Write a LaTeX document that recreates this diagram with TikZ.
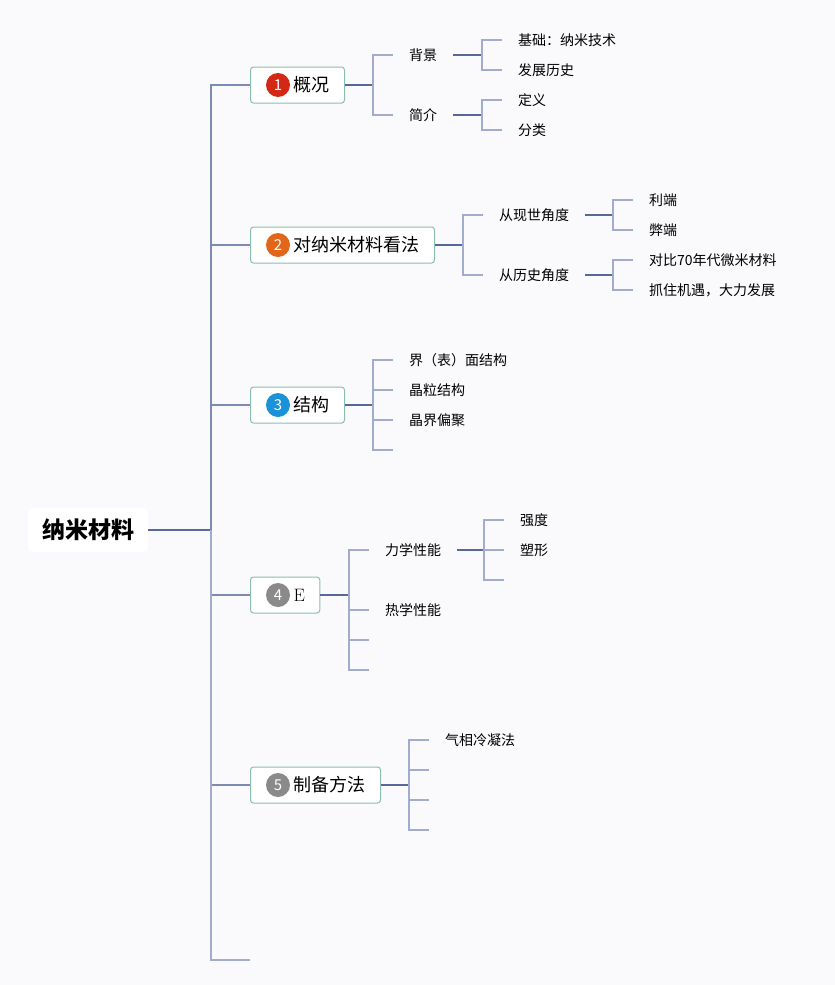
\documentclass[tikz,border=0pt]{standalone}
\usepackage{fontspec}
\newfontfamily\cjk{Noto Sans CJK SC}
\usetikzlibrary{positioning}
\definecolor{bgcol}{RGB}{250,250,252}
\definecolor{linedark}{RGB}{88,104,152}
\definecolor{linemid}{RGB}{125,138,180}
\definecolor{linelight}{RGB}{162,172,206}
\definecolor{boxline}{RGB}{140,190,176}
\definecolor{dotred}{RGB}{212,40,22}
\definecolor{dotorange}{RGB}{226,102,26}
\definecolor{dotblue}{RGB}{26,146,218}
\definecolor{dotgray}{RGB}{138,138,138}

\begin{document}
\begin{tikzpicture}[x=1pt, y=-1pt,
	root/.style={rounded corners=5pt, fill=white, inner xsep=14pt, minimum height=44pt, font=\cjk\fontsize{23}{26}\selectfont\bfseries},
	topic/.style={anchor=west, rounded corners=3pt, draw=boxline, fill=white, line width=1pt, inner xsep=15pt, minimum height=36pt, font=\cjk\fontsize{18}{21}\selectfont},
	numdot/.style={circle, inner sep=0pt, minimum size=24pt, text=white, font=\cjk\fontsize{15}{17}\selectfont},
	leaf/.style={anchor=west, inner xsep=16pt, inner ysep=2pt, font=\cjk\fontsize{14}{16}\selectfont},
	link/.style={draw=linedark, line width=1.2pt},
	fork/.style={draw=linelight, line width=1.2pt}]
	\fill[bgcol] (0,0) rectangle (835,985);
	\useasboundingbox (0,0) rectangle (835,985);

	% root and trunk
	\node[root] (nm) at (88,530) {纳米材料};
	\coordinate (trunk) at (211,530);
	\draw[link] (nm) -- (trunk);

	\node[topic] (gk) at (250,85) {\hspace{28pt}概况};
	\node[topic] (kf) at (250,245) {\hspace{28pt}对纳米材料看法};
	\node[topic] (jg) at (250,405) {\hspace{28pt}结构};
	\node[topic] (xn) at (250,595) {\hspace{28pt}\rmfamily E};
	\node[topic] (zb) at (250,785) {\hspace{28pt}制备方法};
	\coordinate (tend) at (250,960);

	\node[numdot, fill=dotred] at ([xshift=28pt]gk.west) {1};
	\node[numdot, fill=dotorange] at ([xshift=28pt]kf.west) {2};
	\node[numdot, fill=dotblue] at ([xshift=28pt]jg.west) {3};
	\node[numdot, fill=dotgray] at ([xshift=28pt]xn.west) {4};
	\node[numdot, fill=dotgray] at ([xshift=28pt]zb.west) {5};

	\draw[draw=linemid, line width=1.2pt] (trunk) |- (gk.west) (trunk) |- (kf.west) (trunk) |- (jg.west)
		(trunk) |- (xn.west) (trunk) |- (zb.west);
	\draw[fork] (trunk) |- (tend);

	% 1 概况
	\coordinate (gkf) at (373,85);
	\node[leaf] (bj) at (393,55) {背景};
	\node[leaf] (jj) at (393,115) {简介};
	\draw[link] (gk) -- (gkf);
	\draw[fork] (gkf) |- (bj.west) (gkf) |- (jj.west);
	\coordinate (bjf) at (482,55);
	\node[leaf] (jc) at (502,40) {基础：纳米技术};
	\node[leaf] (fz) at (502,70) {发展历史};
	\draw[link] (bj) -- (bjf);
	\draw[fork] (bjf) |- (jc.west) (bjf) |- (fz.west);
	\coordinate (jjf) at (482,115);
	\node[leaf] (dy) at (502,100) {定义};
	\node[leaf] (fl) at (502,130) {分类};
	\draw[link] (jj) -- (jjf);
	\draw[fork] (jjf) |- (dy.west) (jjf) |- (fl.west);

	% 2 对纳米材料看法
	\coordinate (kff) at (463,245);
	\node[leaf] (xs) at (483,215) {从现世角度};
	\node[leaf] (ls) at (483,275) {从历史角度};
	\draw[link] (kf) -- (kff);
	\draw[fork] (kff) |- (xs.west) (kff) |- (ls.west);
	\coordinate (xsf) at (613,215);
	\node[leaf] (ld) at (633,200) {利端};
	\node[leaf] (bd) at (633,230) {弊端};
	\draw[link] (xs) -- (xsf);
	\draw[fork] (xsf) |- (ld.west) (xsf) |- (bd.west);
	\coordinate (lsf) at (613,275);
	\node[leaf] (db) at (633,260) {对比70年代微米材料};
	\node[leaf] (jy) at (633,290) {抓住机遇，大力发展};
	\draw[link] (ls) -- (lsf);
	\draw[fork] (lsf) |- (db.west) (lsf) |- (jy.west);

	% 3 结构
	\coordinate (jgf) at (373,405);
	\node[leaf] (jm) at (393,360) {界（表）面结构};
	\node[leaf] (jl) at (393,390) {晶粒结构};
	\node[leaf] (pj) at (393,420) {晶界偏聚};
	\coordinate (jge) at (393,450);
	\draw[link] (jg) -- (jgf);
	\draw[fork] (jgf) |- (jm.west) (jgf) |- (jl.west) (jgf) |- (pj.west) (jgf) |- (jge);

	% 4 E
	\coordinate (xnf) at (349,595);
	\node[leaf] (lx) at (369,550) {力学性能};
	\node[leaf] (rx) at (369,610) {热学性能};
	\coordinate (xne1) at (369,640);
	\coordinate (xne2) at (369,670);
	\draw[link] (xn) -- (xnf);
	\draw[fork] (xnf) |- (lx.west) (xnf) |- (rx.west) (xnf) |- (xne1) (xnf) |- (xne2);
	\coordinate (lxf) at (484,550);
	\node[leaf] (qd) at (504,520) {强度};
	\node[leaf] (sx) at (504,550) {塑形};
	\coordinate (lxe) at (504,580);
	\draw[link] (lx) -- (lxf);
	\draw[fork] (lxf) |- (qd.west) (lxf) |- (sx.west) (lxf) |- (lxe);

	% 5 制备方法
	\coordinate (zbf) at (409,785);
	\node[leaf] (qx) at (429,740) {气相冷凝法};
	\coordinate (zbe1) at (429,770);
	\coordinate (zbe2) at (429,800);
	\coordinate (zbe3) at (429,830);
	\draw[link] (zb) -- (zbf);
	\draw[fork] (zbf) |- (qx.west) (zbf) |- (zbe1) (zbf) |- (zbe2) (zbf) |- (zbe3);
\end{tikzpicture}
\end{document}
